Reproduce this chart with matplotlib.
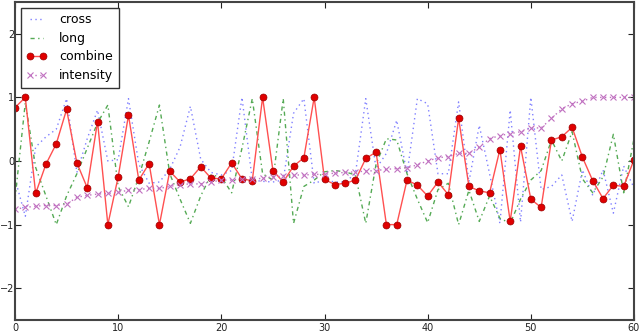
import matplotlib
matplotlib.use("Agg")
import matplotlib.pyplot as plt
import numpy as np

x_vals = list(range(61))

cross = [-0.28, -0.87, 0.22, 0.38, 0.5, 0.98, -0.18, 0.35, 0.8, 0.0,
         0.02, 0.98, -0.05, -0.35, -0.33, -0.13, 0.22, 0.86, 0.03, -0.18,
         -0.22, -0.15, 1.0, -0.3, -0.32, -0.33, -0.3, 0.75, 0.98, -0.35,
         -0.3, -0.33, -0.33, -0.2, 0.98, -0.12, 0.12, 0.64, -0.2, 0.98,
         0.9, -0.2, -0.2, 0.93, -0.33, 0.56, -0.2, -0.98, 0.8, -0.96,
         1.0, -0.45, -0.4, -0.22, -0.95, -0.14, -0.54, -0.14, -0.82, -0.08,
         -0.42]

long_ = [-0.6, 0.92, -0.1, -0.55, -1.0, -0.55, -0.2, 0.2, 0.6, 0.88,
         -0.4, -0.72, -0.25, 0.3, 0.88, -0.2, -0.6, -0.98, -0.55, -0.22,
         -0.25, -0.5, 0.2, 0.98, -0.2, -0.3, 0.98, -0.98, -0.4, -0.3,
         -0.17, -0.15, -0.17, -0.22, -0.98, -0.05, 0.35, 0.33, -0.2, -0.6,
         -0.97, -0.45, -0.35, -1.0, -0.46, -0.95, -0.55, -0.9, -0.98, -0.6,
         -0.3, -0.15, 0.33, 0.0, 0.46, -0.28, -0.5, -0.25, 0.42, -0.5,
         0.35]

combine = [0.84, 1.0, -0.51, -0.05, 0.27, 0.81, -0.03, -0.42, 0.62, -1.0,
           -0.25, 0.72, -0.3, -0.04, -1.0, -0.16, -0.33, -0.28, -0.09, -0.27,
           -0.28, -0.03, -0.28, -0.31, 1.0, -0.15, -0.33, -0.08, 0.05, 1.0,
           -0.29, -0.37, -0.35, -0.30, 0.04, 0.14, -1.0, -1.0, -0.3, -0.38,
           -0.55, -0.33, -0.53, 0.67, -0.40, -0.47, -0.50, 0.18, -0.95, 0.23,
           -0.6, -0.73, 0.33, 0.38, 0.53, 0.06, -0.31, -0.59, -0.38, -0.40,
           0.02]

intensity = [-0.76, -0.73, -0.71, -0.70, -0.70, -0.68, -0.57, -0.54, -0.52, -0.51,
             -0.49, -0.46, -0.45, -0.43, -0.43, -0.40, -0.37, -0.36, -0.36, -0.33,
             -0.30, -0.30, -0.28, -0.29, -0.27, -0.25, -0.24, -0.22, -0.22, -0.21,
             -0.21, -0.19, -0.18, -0.17, -0.16, -0.15, -0.13, -0.12, -0.11, -0.06,
             0.0, 0.05, 0.07, 0.12, 0.12, 0.22, 0.35, 0.40, 0.43, 0.46,
             0.52, 0.52, 0.67, 0.82, 0.90, 0.94, 1.0, 1.0, 1.0, 1.0,
             1.0]

x_ticks = [0, 10, 20, 30, 40, 50, 60]
y_ticks = [-2, -1, 0, 1, 2]

plt.rcParams['font.family'] = ['DejaVu Sans']
fig = plt.figure(figsize=(6.4, 3.32), dpi=100)
ax = fig.add_axes([15/640, (332-320)/332, (634-15)/640, 318/332])

ax.plot(x_vals, cross, linestyle=(0, (1, 2.5)), color='#8080ff', lw=1.0, label='cross')
ax.plot(x_vals, long_, linestyle=(0, (3, 2.5, 1, 2.5)), color='#55aa55', lw=1.0, label='long')
ax.plot(x_vals, combine, linestyle='-', color='#ff5050', lw=1.0, marker='o',
        markersize=5, markerfacecolor='#e00000', markeredgecolor='#990000',
        markeredgewidth=0.5, label='combine')
ax.plot(x_vals, intensity, linestyle=(0, (1, 2.5)), color='#c070c0', lw=1.0, marker='x',
        markersize=5, markeredgecolor='#c070c0', markeredgewidth=0.8, label='intensity')

ax.set_xlim(0, 60)
ax.set_ylim(-2.5, 2.5)
ax.set_xticks(x_ticks)
ax.set_yticks(y_ticks)
ax.tick_params(direction='in', top=True, right=True, length=4, width=0.8,
               labelsize=7, colors='#222222')
ax.tick_params(axis='x', pad=2.5)
ax.tick_params(axis='y', pad=0.5)
for s in ax.spines.values():
    s.set_color('#444444')
    s.set_linewidth(1.5)

leg = ax.legend(loc='upper left', fontsize=9, numpoints=2, fancybox=False,
                framealpha=1, edgecolor='#333333', handlelength=1.6,
                labelspacing=0.45, borderaxespad=0.45, handletextpad=1.0,
                borderpad=0.45)
leg.get_frame().set_linewidth(1.0)

fig.savefig('out.png', dpi=100)
